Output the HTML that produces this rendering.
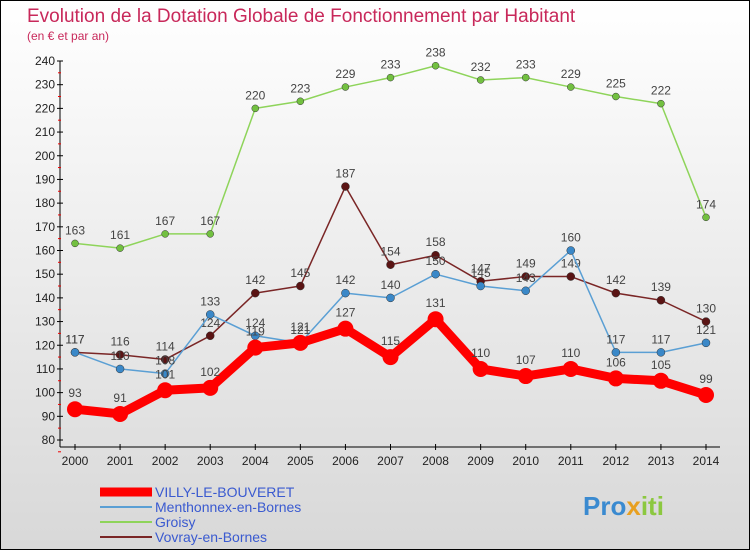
<!DOCTYPE html>
<html><head><meta charset="utf-8"><style>
html,body{margin:0;padding:0;}
body{width:750px;height:550px;overflow:hidden;font-family:"Liberation Sans",sans-serif;}
</style></head><body>
<svg width="750" height="550" xmlns="http://www.w3.org/2000/svg" id="chart" font-family="Liberation Sans, sans-serif">
<defs><linearGradient id="bg" x1="0" y1="0" x2="0" y2="1"><stop offset="0" stop-color="#ffffff"/><stop offset="1" stop-color="#d8d8d8"/></linearGradient></defs>
<rect x="0.5" y="0.5" width="749" height="549" fill="url(#bg)" stroke="#000"/>
<text x="27" y="22" font-size="19" fill="#c8285a">Evolution de la Dotation Globale de Fonctionnement par Habitant</text>
<text x="27" y="40" font-size="12" fill="#c8285a">(en € et par an)</text>
<g id="axes"></g><g id="series"></g><g id="legend"></g>
</svg>
<script>
const years=[2000,2001,2002,2003,2004,2005,2006,2007,2008,2009,2010,2011,2012,2013,2014];
const villy=[93,91,101,102,119,121,127,115,131,110,107,110,106,105,99];
const menthonnex=[117,110,108,133,124,121,142,140,150,145,143,160,117,117,121];
const groisy=[163,161,167,167,220,223,229,233,238,232,233,229,225,222,174];
const vovray=[117,116,114,124,142,145,187,154,158,147,149,149,142,139,130];
const yTicks=[80,90,100,110,120,130,140,150,160,170,180,190,200,210,220,230,240];
const NS="http://www.w3.org/2000/svg";
const x=i=>75+i*(706-75)/(years.length-1);
const y=v=>440-(v-80)*(440-61)/160;
function mk(t,a,p){const e=document.createElementNS(NS,t);for(const k in a)e.setAttribute(k,a[k]);p.appendChild(e);return e;}
const ax=document.getElementById('axes');
const yl=mk('line',{x1:60,y1:61,x2:60,y2:447,stroke:'#000'},ax);


const xl=mk('line',{x1:60,y1:447,x2:720,y2:447,stroke:'#000'},ax);


yTicks.forEach(v=>{
 mk('line',{x1:57,y1:y(v),x2:63,y2:y(v),stroke:'#000'},ax);
 mk('line',{x1:58,y1:y(v)+11.8,x2:61,y2:y(v)+11.8,stroke:'#e00'},ax);
 const t=mk('text',{x:55,y:y(v)+4,'text-anchor':'end','font-size':12,fill:'#222'},ax);t.textContent=v;
 
 
});
years.forEach((yr,i)=>{
 mk('line',{x1:x(i),y1:444,x2:x(i),y2:450,stroke:'#000'},ax);
 const t=mk('text',{x:x(i),y:465,'text-anchor':'middle','font-size':12,fill:'#222'},ax);t.textContent=yr;
 
 
});
const sg=document.getElementById('series');
const series=[
 {name:'groisy',data:groisy,color:'#8ed45a',w:1.5,r:3.5,mc:'#72c040'},
 {name:'vovray',data:vovray,color:'#7a2626',w:1.5,r:4,mc:'#5a1414'},
 {name:'menthonnex',data:menthonnex,color:'#5a9fd4',w:1.5,r:4,mc:'#3a88c8'},
 {name:'villy',data:villy,color:'#ff0000',w:9,r:8,mc:'#ff0000'}];
series.forEach(s=>{
 const g=mk('g',{},sg);
 
 
 const pl=mk('polyline',{points:s.data.map((v,i)=>x(i)+','+y(v)).join(' '),fill:'none',stroke:s.color,'stroke-width':s.w,'stroke-linejoin':'round'},g);
 
 
 s.data.forEach((v,i)=>{
  const c=mk('circle',{cx:x(i),cy:y(v),r:s.r,fill:s.mc,stroke:s.name==='villy'?'none':'#333','stroke-width':0.5},g);
  
  
  const t=mk('text',{x:x(i),y:y(v)-(s.name==='villy'?12:9),'text-anchor':'middle','font-size':12,fill:'#444'},g);t.textContent=v;
  
  
 });
});
const lg=document.getElementById('legend');
const items=[['VILLY-LE-BOUVERET','#ff0000',9],['Menthonnex-en-Bornes','#5a9fd4',2],['Groisy','#8ed45a',2],['Vovray-en-Bornes','#7a2626',2]];
items.forEach((it,i)=>{
 const yy=492+i*15;
 const g=mk('g',{},lg);
 
 
 mk('line',{x1:100,y1:yy,x2:152,y2:yy,stroke:it[1],'stroke-width':it[2]},g);
 const t=mk('text',{x:155,y:yy+5,'font-size':14,fill:'#3a5ad0'},g);t.textContent=it[0];
});
const lo=mk('text',{x:583,y:515,'font-size':26,'font-weight':'bold',fill:'#e8a020'},lg);


lo.innerHTML='<tspan fill="#3a8ad0">Pro</tspan><tspan fill="#e8a020">x</tspan><tspan fill="#8cc840">iti</tspan>';
</script>
</body></html>
